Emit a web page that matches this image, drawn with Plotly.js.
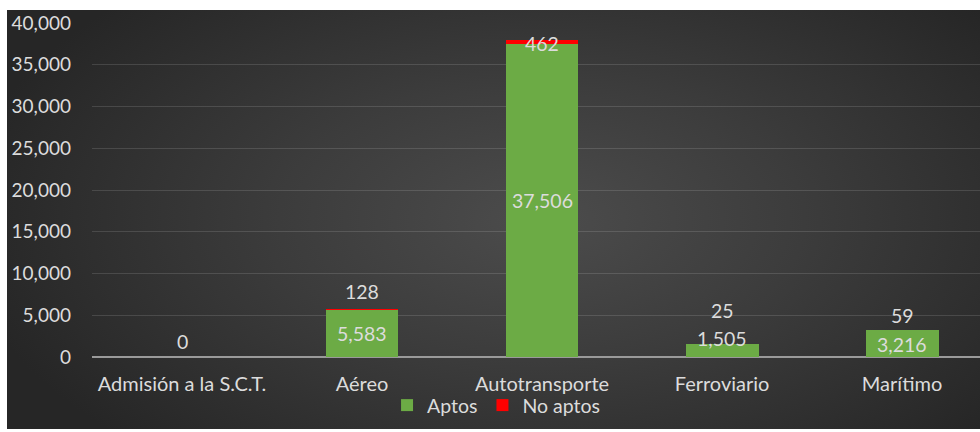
<!DOCTYPE html>
<html>
<head>
<meta charset="utf-8">
<script src="https://cdn.plot.ly/plotly-3.0.1.min.js"></script>
<style>
  html, body { margin: 0; padding: 0; background: #ffffff; }
  #bg { position: absolute; left: 7px; top: 10px; width: 973px; height: 419px;
        background: radial-gradient(ellipse 60% 75% at 55% 50%, #4c4c4c 0%, #3c3c3c 45%, #262626 100%); }
  #chart { position: absolute; left: 0; top: 0; width: 980px; height: 432px; }
</style>
</head>
<body>
<div id="bg"></div>
<div id="chart"></div>
<script>
const categories = ["Admisión a la S.C.T.", "Aéreo", "Autotransporte", "Ferroviario", "Marítimo"];
const aptos = [0, 5583, 37506, 1505, 3216];
const noAptos = [0, 128, 462, 25, 59];
const yTicks = [0, 5000, 10000, 15000, 20000, 25000, 30000, 35000, 40000];

// label offsets in pixels (style only)
const aptosShift = [0, 0, 0, 12, -1];
const noAptosShift = [16, 18, -4, 34, 14];

const fmt = v => v.toLocaleString('en-US');
const FONT = 'Lato, "Open Sans", sans-serif';
const TXT = '#dcdcdc';

const traces = [
  { type: 'bar', name: 'Aptos', x: categories, y: aptos,
    marker: { color: '#6cab45', line: { width: 0 } }, hoverinfo: 'none' },
  { type: 'bar', name: 'No aptos', x: categories, y: noAptos,
    marker: { color: '#ff0000', line: { width: 0 } }, hoverinfo: 'none' }
];

const annotations = [];
categories.forEach((c, i) => {
  if (aptos[i] > 0) {
    annotations.push({ x: c, y: aptos[i] / 2, text: fmt(aptos[i]), showarrow: false,
      yshift: aptosShift[i], font: { family: FONT, size: 19.5, color: TXT } });
  }
  annotations.push({ x: c, y: aptos[i] + noAptos[i], text: fmt(noAptos[i]), showarrow: false,
    yshift: noAptosShift[i], font: { family: FONT, size: 19.5, color: TXT } });
});

const layout = {
  width: 980, height: 432,
  paper_bgcolor: 'rgba(0,0,0,0)', plot_bgcolor: 'rgba(0,0,0,0)',
  margin: { l: 92, r: 0, t: 23, b: 75 },
  barmode: 'stack', bargap: 0.595,
  font: { family: FONT, size: 19, color: TXT },
  xaxis: { range: [-0.5, 4.433], showgrid: false, showline: false, zeroline: false,
    ticks: '', ticklabelstandoff: 13, tickfont: { family: FONT, size: 20, color: TXT } },
  yaxis: { range: [0, 40000], tickvals: yTicks, ticktext: yTicks.map(fmt),
    showgrid: true, gridcolor: 'rgba(255,255,255,0.13)', gridwidth: 1,
    zeroline: true, zerolinecolor: '#9a9a9a', zerolinewidth: 2,
    showline: false, ticks: '', ticklabelstandoff: 20,
    tickfont: { family: FONT, size: 19, color: TXT } },
  showlegend: true,
  legend: { orientation: 'h', x: 0.455, xanchor: 'center', y: -0.145, yanchor: 'middle',
    bgcolor: 'rgba(0,0,0,0)', font: { family: FONT, size: 19.5, color: TXT }, itemwidth: 30,
    traceorder: 'normal' },
  annotations: annotations
};

Plotly.newPlot('chart', traces, layout, { staticPlot: true, displayModeBar: false });
</script>
</body>
</html>
